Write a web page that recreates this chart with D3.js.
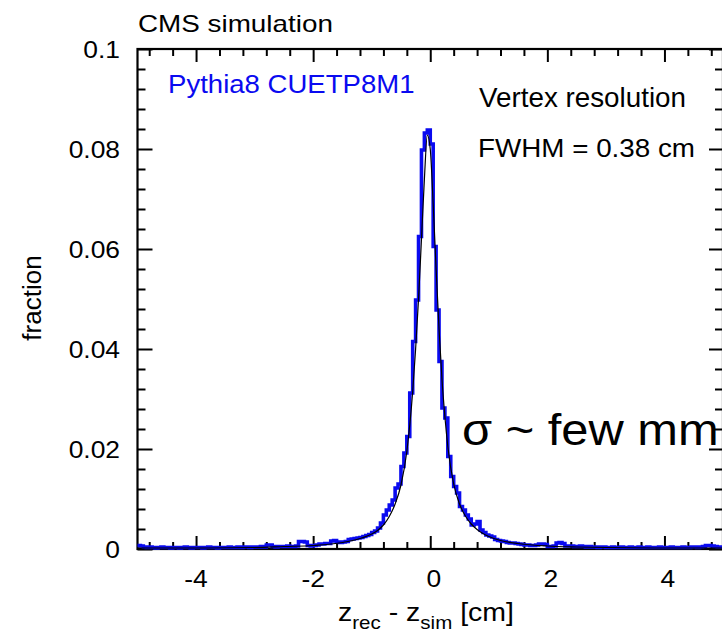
<!DOCTYPE html>
<html><head><meta charset="utf-8">
<script src="https://cdn.jsdelivr.net/npm/d3@7"></script>
<style>
html,body{margin:0;padding:0;background:#fff;}
svg{display:block;font-family:"Liberation Sans",Arial,Helvetica,sans-serif;}
</style></head><body>
<svg id="chart" width="722" height="636"></svg>
<script>
// ---- data ----
const binStart = -5;
const binWidth = 0.05;
const fraction = [
  0.0007,0.0006,0.0004,0.0003,0.0004,0.0003,0.0002,0.0003,0.0004,0.0003,
  0.0003,0.0002,0.0003,0.0003,0.0002,0.0003,0.0004,0.0003,0.0002,0.0003,
  0.0003,0.0003,0.0002,0.0003,0.0004,0.0003,0.0003,0.0002,0.0003,0.0003,
  0.0003,0.0004,0.0003,0.0003,0.0004,0.0003,0.0004,0.0004,0.0003,0.0004,
  0.0004,0.0004,0.0005,0.0004,0.0008,0.0008,0.0005,0.0004,0.0005,0.0005,
  0.0005,0.0006,0.0005,0.0005,0.0006,0.0015,0.0015,0.0014,0.0007,0.0006,
  0.0007,0.0008,0.0010,0.0010,0.0011,0.0011,0.0016,0.0017,0.0014,0.0013,
  0.0014,0.0015,0.0019,0.0020,0.0021,0.0022,0.0023,0.0025,0.0027,0.0029,
  0.0033,0.0036,0.0042,0.0052,0.0068,0.0078,0.0088,0.0098,0.0122,0.0130,
  0.0165,0.0192,0.0225,0.0312,0.0415,0.0498,0.0625,0.0798,0.0832,0.0838,
  0.0810,0.0605,0.0478,0.0375,0.0282,0.0262,0.0185,0.0145,0.0125,0.0112,
  0.0085,0.0078,0.0068,0.0060,0.0048,0.0050,0.0055,0.0038,0.0033,0.0028,
  0.0026,0.0024,0.0019,0.0017,0.0016,0.0015,0.0013,0.0012,0.0012,0.0011,
  0.0010,0.0009,0.0008,0.0008,0.0007,0.0007,0.0008,0.0010,0.0010,0.0009,
  0.0005,0.0005,0.0006,0.0012,0.0013,0.0011,0.0006,0.0006,0.0006,0.0005,
  0.0005,0.0006,0.0005,0.0004,0.0005,0.0004,0.0004,0.0003,0.0004,0.0004,
  0.0003,0.0003,0.0004,0.0003,0.0003,0.0004,0.0003,0.0003,0.0004,0.0003,
  0.0003,0.0004,0.0003,0.0003,0.0004,0.0003,0.0003,0.0003,0.0004,0.0003,
  0.0003,0.0003,0.0004,0.0003,0.0003,0.0003,0.0004,0.0003,0.0003,0.0004,
  0.0004,0.0003,0.0004,0.0005,0.0007,0.0007,0.0006,0.0005,0.0004,0.0004
];
const fitX = [-5,-4,-3,-2.5,-2,-1.5,-1.2,-1.0,-0.9,-0.8,-0.7,-0.6,-0.5,-0.4,-0.3,-0.25,-0.2,-0.15,-0.1,-0.05,
              0,0.05,0.1,0.15,0.2,0.25,0.3,0.4,0.5,0.6,0.7,0.8,0.9,1.0,1.2,1.5,2.0,2.5,3,4,5];
const fitY = [0.0002,0.0002,0.0003,0.0005,0.0007,0.0013,0.0021,0.0030,0.0037,0.0048,0.0065,0.0090,0.0128,0.0195,0.0315,0.0400,0.0500,0.0620,0.0740,0.0828,
              0.0800,0.0690,0.0560,0.0440,0.0340,0.0265,0.0205,0.0130,0.0090,0.0066,0.0050,0.0039,0.0031,0.0025,0.0017,0.0011,0.0006,0.0004,0.0003,0.0002,0.0002];
const xTicks = [-4,-2,0,2,4];
const xTickLabels = ["-4","-2","0","2","4"];
const yTicks = [0,0.02,0.04,0.06,0.08,0.1];
const yTickLabels = ["0","0.02","0.04","0.06","0.08","0.1"];
const xDomain = [-5,5];
const yDomain = [0,0.1];

// ---- layout ----
const L = 137.5, R = 723, T = 49, B = 549;
const svg = d3.select("#chart");
const x = d3.scaleLinear().domain(xDomain).range([L,R]);
const y = d3.scaleLinear().domain(yDomain).range([B,T]);

const xMinor = d3.range(-4.8, 5, 0.4).filter(v => Math.abs(v/2 - Math.round(v/2)) > 1e-6);
const yMinor = d3.range(0.004, 0.1, 0.004).filter(v => Math.abs(v/0.02 - Math.round(v/0.02)) > 1e-6);

function tickLines(g){ g.selectAll("line").attr("stroke","#000").attr("stroke-width",2); g.select(".domain").remove(); }

// bottom
svg.append("g").attr("transform",`translate(0,${B})`)
  .call(d3.axisBottom(x).tickValues(xTicks).tickSizeInner(-13).tickSizeOuter(0).tickFormat(""))
  .call(tickLines);
svg.append("g").attr("transform",`translate(0,${B})`)
  .call(d3.axisBottom(x).tickValues(xMinor).tickSizeInner(-7).tickSizeOuter(0).tickFormat(""))
  .call(tickLines);
// top
svg.append("g").attr("transform",`translate(0,${T})`)
  .call(d3.axisTop(x).tickValues(xTicks).tickSizeInner(-13).tickSizeOuter(0).tickFormat(""))
  .call(tickLines);
svg.append("g").attr("transform",`translate(0,${T})`)
  .call(d3.axisTop(x).tickValues(xMinor).tickSizeInner(-7).tickSizeOuter(0).tickFormat(""))
  .call(tickLines);
// left
svg.append("g").attr("transform",`translate(${L},0)`)
  .call(d3.axisLeft(y).tickValues(yTicks).tickSizeInner(-15).tickSizeOuter(0).tickFormat(""))
  .call(tickLines);
svg.append("g").attr("transform",`translate(${L},0)`)
  .call(d3.axisLeft(y).tickValues(yMinor).tickSizeInner(-8).tickSizeOuter(0).tickFormat(""))
  .call(tickLines);
// right
svg.append("g").attr("transform",`translate(${R},0)`)
  .call(d3.axisRight(y).tickValues(yTicks).tickSizeInner(-14).tickSizeOuter(0).tickFormat(""))
  .call(tickLines);
svg.append("g").attr("transform",`translate(${R},0)`)
  .call(d3.axisRight(y).tickValues(yMinor).tickSizeInner(-8).tickSizeOuter(0).tickFormat(""))
  .call(tickLines);

// frame
svg.append("rect").attr("x",L).attr("y",T).attr("width",R-L).attr("height",B-T)
  .attr("fill","none").attr("stroke","#000").attr("stroke-width",2.2);

// tick labels
const TS = 24, SX = 1.1;
svg.append("g").selectAll("text").data(xTicks).join("text")
  .attr("transform",(d,i)=>`translate(${x(d) + (d>=0?3.5:0)},${587}) scale(${SX},1)`)
  .attr("text-anchor","middle").attr("font-size",TS).attr("fill","#000")
  .text((d,i)=>xTickLabels[i]);
svg.append("g").selectAll("text").data(yTicks).join("text")
  .attr("transform",d=>`translate(${120},${y(d)+8.5}) scale(${SX},1)`)
  .attr("text-anchor","end").attr("font-size",TS).attr("fill","#000")
  .text((d,i)=>yTickLabels[i]);

// histogram
const histPts = fraction.map((v,i)=>[binStart + i*binWidth, v]);
histPts.push([binStart + fraction.length*binWidth, fraction[fraction.length-1]]);
const stepLine = d3.line().x(d=>x(d[0])).y(d=>y(d[1])).curve(d3.curveStepAfter);
svg.append("path").attr("d",stepLine(histPts))
  .attr("fill","none").attr("stroke","#0a0af0").attr("stroke-width",3.6).attr("stroke-linejoin","miter");

// fit
const fitLine = d3.line().x(d=>x(d[0])).y(d=>y(d[1])).curve(d3.curveMonotoneX);
svg.append("path").attr("d",fitLine(fitX.map((v,i)=>[v,fitY[i]])))
  .attr("fill","none").attr("stroke","#000").attr("stroke-width",1.2);

// texts
function txt(str, tx, ty, size, sx, fill){
  return svg.append("text").attr("transform",`translate(${tx},${ty}) scale(${sx},1)`)
    .attr("font-size",size).attr("fill",fill||"#000").text(str);
}
txt("CMS simulation", 138, 31.5, 24, 1.16);
txt("Pythia8 CUETP8M1", 168, 93, 26, 1.06, "#0a0af0");
txt("Vertex resolution", 479, 106.5, 27, 1.03);
txt("FWHM = 0.38 cm", 478, 156.5, 26, 1.07);
txt("σ ~ few mm", 462, 445, 44, 1.11);

// y title
svg.append("text").attr("transform","translate(41,298) rotate(-90)")
  .attr("text-anchor","middle").attr("font-size",26).attr("fill","#000").text("fraction");

// x title
const xt = svg.append("text").attr("transform","translate(338,621) scale(1.14,1)").attr("font-size",25).attr("fill","#000");
xt.append("tspan").text("z");
xt.append("tspan").attr("font-size",18).attr("dy",8).text("rec");
xt.append("tspan").attr("dy",-8).text(" - z");
xt.append("tspan").attr("font-size",18).attr("dy",8).text("sim");
xt.append("tspan").attr("dy",-8).text(" [cm]");
</script>
</body></html>
